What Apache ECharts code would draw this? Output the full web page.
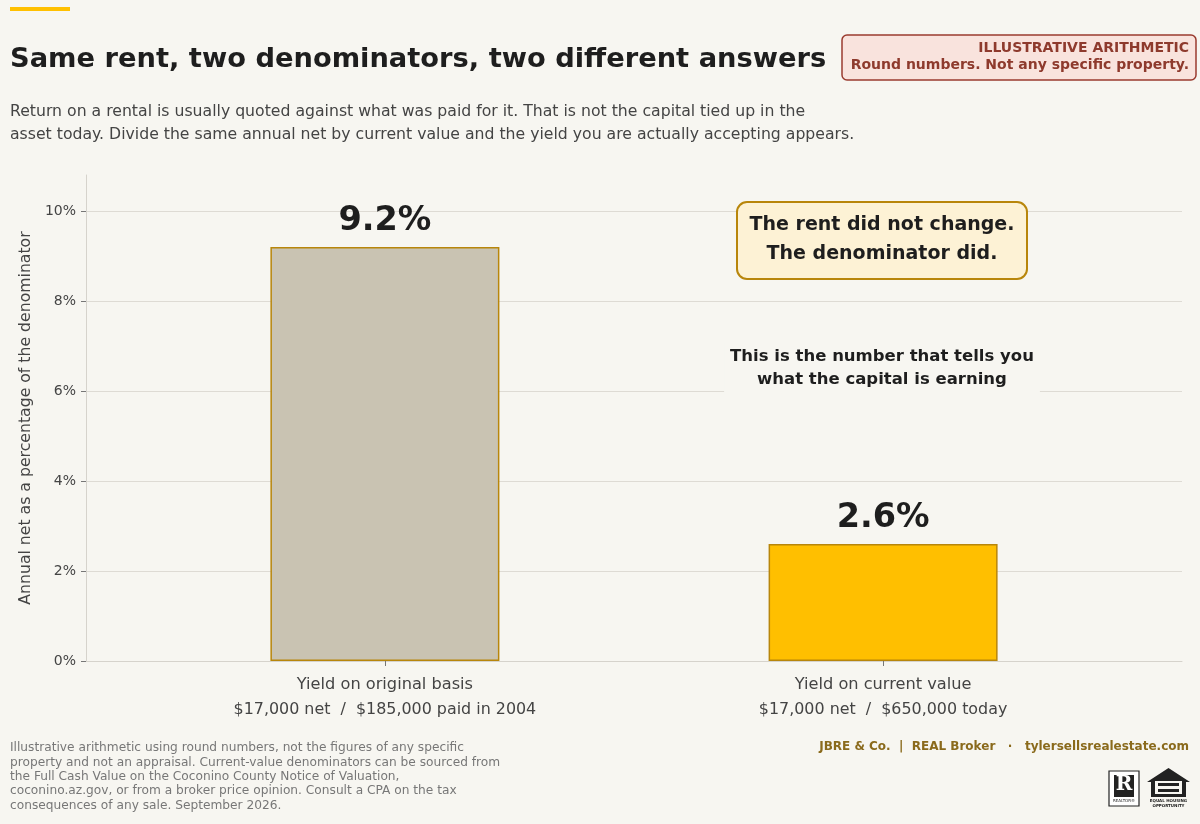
<!DOCTYPE html>
<html>
<head>
<meta charset="utf-8">
<script src="https://cdn.jsdelivr.net/npm/echarts@6/dist/echarts.min.js"></script>
<style>
  html, body { margin: 0; padding: 0; background: #F7F6F1; }
  #chart { width: 1200px; height: 824px; }
</style>
</head>
<body>
<div id="chart"></div>
<script>
// chart data
var categories = ['Yield on original basis', 'Yield on current value'];
var basisNotes = ['$17,000 net  /  $185,000 paid in 2004', '$17,000 net  /  $650,000 today'];
var yieldPct = [9.2, 2.6];
var yTicks = [0, 2, 4, 6, 8, 10];
var barFills = ['#C9C3B2', '#FFBF00'];

var FONT = 'DejaVu Sans';
var BG = '#F7F6F1';
var GRID = '#DEDBD4';

function txt(text, size, weight, color, extra) {
  var s = { text: text, font: (weight === 'bold' ? 'bold ' : '') + size + 'px "DejaVu Sans"', fill: color };
  for (var k in extra) s[k] = extra[k];
  return s;
}

var chart = echarts.init(document.getElementById('chart'));

var barData = yieldPct.map(function (v, i) {
  return {
    value: [i, v],
    itemStyle: { color: barFills[i], borderColor: '#B8860B', borderWidth: 1.5 }
  };
});

var option = {
  backgroundColor: BG,
  animation: false,
  grid: { left: 86, right: 18, top: 175, bottom: 163 },
  xAxis: {
    type: 'value',
    min: -0.6,
    max: 1.6,
    splitLine: { show: false },
    axisLine: { show: true, onZero: false, lineStyle: { color: '#D6D3CC', width: 1 } },
    axisTick: { show: true, customValues: [0, 1], length: 5, lineStyle: { color: '#777' } },
    axisLabel: {
      customValues: [0, 1],
      margin: 11,
      color: '#444',
      formatter: function (v) {
        var i = Math.round(v);
        return '{a|' + categories[i] + '}\n{b|' + basisNotes[i] + '}';
      },
      rich: {
        a: { fontFamily: FONT, fontSize: 16.2, color: '#444', lineHeight: 25 },
        b: { fontFamily: FONT, fontSize: 15.9, color: '#444', lineHeight: 25 }
      }
    }
  },
  yAxis: {
    type: 'value',
    min: 0,
    max: 10.8,
    interval: 2,
    name: 'Annual net as a percentage of the denominator',
    nameLocation: 'middle',
    nameGap: 47,
    nameTextStyle: { fontFamily: FONT, fontSize: 15.7, color: '#444' },
    axisLine: { show: true, onZero: false, lineStyle: { color: '#D6D3CC', width: 1 } },
    axisTick: { show: true, customValues: yTicks, length: 5, lineStyle: { color: '#777' } },
    axisLabel: {
      customValues: yTicks,
      margin: 10,
      fontFamily: FONT,
      fontSize: 14,
      color: '#444',
      formatter: function (v) { return v + '%'; }
    },
    splitLine: {
      show: true,
      lineStyle: { color: [GRID, GRID, GRID, GRID, GRID, GRID, 'rgba(0,0,0,0)'], width: 1 }
    }
  },
  series: [{
    type: 'bar',
    barWidth: 229,
    data: barData,
    z: 3,
    label: {
      show: true,
      position: 'top',
      distance: 9,
      fontFamily: FONT,
      fontSize: 33.5,
      fontWeight: 'bold',
      color: '#1E1E1E',
      formatter: function (p) { return p.value[1] + '%'; }
    }
  }],
  graphic: [
    // accent bar
    { type: 'rect', shape: { x: 10, y: 7, width: 60, height: 4 }, style: { fill: '#FFC000' } },
    // title
    { type: 'text', left: 10, top: 46, style: txt('Same rent, two denominators, two different answers', 27.3, 'bold', '#1E1E1E') },
    // subtitle
    { type: 'text', left: 10, top: 100, style: txt(
      'Return on a rental is usually quoted against what was paid for it. That is not the capital tied up in the\nasset today. Divide the same annual net by current value and the yield you are actually accepting appears.',
      15.7, 'normal', '#444', { lineHeight: 23 }) },
    // badge
    { type: 'rect', shape: { x: 842, y: 35, width: 354, height: 45, r: 5 }, style: { fill: '#F9E3DD', stroke: '#9A3B2F', lineWidth: 1.5 } },
    { type: 'text', x: 1189, y: 41, style: txt('ILLUSTRATIVE ARITHMETIC', 14, 'bold', '#8E3A2D', { align: 'right' }) },
    { type: 'text', x: 1189, y: 58, style: txt('Round numbers. Not any specific property.', 14, 'bold', '#8E3A2D', { align: 'right' }) },
    // callout box
    { type: 'rect', z: 10, shape: { x: 737, y: 202, width: 290, height: 77, r: 10 }, style: { fill: '#FDF2D5', stroke: '#B8860B', lineWidth: 2 } },
    { type: 'text', z: 11, x: 882, y: 211, style: txt('The rent did not change.\nThe denominator did.', 19, 'bold', '#1E1E1E', { align: 'center', lineHeight: 29 }) },
    // note over gridline
    { type: 'text', z: 10, x: 882, y: 343, style: txt('This is the number that tells you\nwhat the capital is earning', 16.5, 'bold', '#1E1E1E',
      { align: 'center', lineHeight: 23, backgroundColor: BG, padding: [2, 6, 4, 6] }) },
    // footer left
    { type: 'text', left: 10, top: 741, style: txt(
      'Illustrative arithmetic using round numbers, not the figures of any specific\nproperty and not an appraisal. Current-value denominators can be sourced from\nthe Full Cash Value on the Coconino County Notice of Valuation,\ncoconino.az.gov, or from a broker price opinion. Consult a CPA on the tax\nconsequences of any sale. September 2026.',
      12.2, 'normal', '#777', { lineHeight: 14.3 }) },
    // footer right
    { type: 'text', x: 1189, y: 741, style: txt('JBRE & Co.  |  REAL Broker   \u00B7   tylersellsrealestate.com', 12, 'bold', '#8A6A1C', { align: 'right' }) },
    // realtor mark
    { type: 'rect', shape: { x: 1109, y: 771, width: 30, height: 35 }, style: { fill: '#fff', stroke: '#222', lineWidth: 1.2 } },
    { type: 'rect', shape: { x: 1114, y: 775, width: 20, height: 22 }, style: { fill: '#222' } },
    { type: 'text', x: 1124, y: 775, style: { text: 'R', font: 'bold 20px "DejaVu Serif"', fill: '#fff', align: 'center' } },
    { type: 'text', x: 1124, y: 799, style: txt('REALTOR\u00AE', 4, 'normal', '#222', { align: 'center' }) },
    // equal housing mark
    { type: 'polygon', shape: { points: [[1147, 782], [1168.5, 768], [1190, 782], [1186, 782], [1186, 797], [1151, 797], [1151, 782]] }, style: { fill: '#222' } },
    { type: 'rect', shape: { x: 1155, y: 781, width: 27, height: 13 }, style: { fill: BG } },
    { type: 'rect', shape: { x: 1158, y: 783, width: 21, height: 3 }, style: { fill: '#222' } },
    { type: 'rect', shape: { x: 1158, y: 789, width: 21, height: 3 }, style: { fill: '#222' } },
    { type: 'text', x: 1168.5, y: 798, style: txt('EQUAL HOUSING\nOPPORTUNITY', 4, 'bold', '#222', { align: 'center', lineHeight: 5 }) }
  ]
};

chart.setOption(option);
</script>
</body>
</html>
